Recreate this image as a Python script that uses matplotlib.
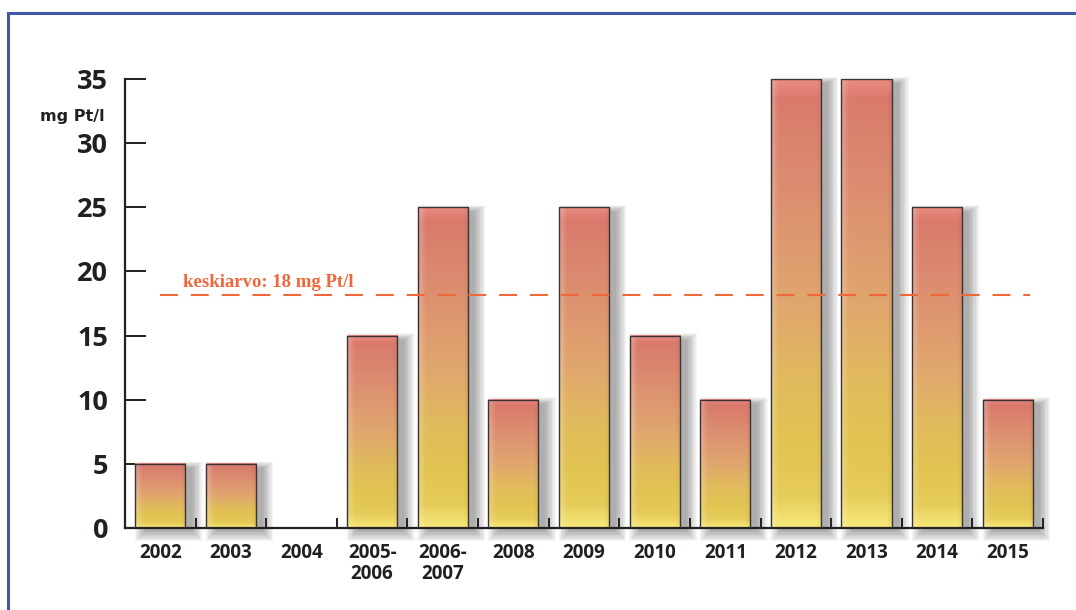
import numpy as np
import matplotlib
matplotlib.use("Agg")
import matplotlib.pyplot as plt
from matplotlib.patches import Rectangle
from matplotlib.colors import LinearSegmentedColormap

# data
years = ["2002", "2003", "2004", "2005-\n2006", "2006-\n2007", "2008", "2009",
         "2010", "2011", "2012", "2013", "2014", "2015"]
values = [5, 5, 0, 15, 25, 10, 25, 15, 10, 35, 35, 25, 10]
mean_value = 18.2
mean_label = "keskiarvo: 18 mg Pt/l"
unit_label = "mg Pt/l"

bar_w = 0.71
ink = "#231f20"
mean_col = "#f0673a"

# vertical colour stops of the bar fill, from top (0) to bottom (1)
stops = [(0.0, "#ea8a80"), (0.04, "#d97a6c"), (0.25, "#dc8e70"),
         (0.5, "#e0a66e"), (0.68, "#e1bb5c"), (0.82, "#e2c452"),
         (0.93, "#e6cc5a"), (1.0, "#f6e878")]
vcmap = LinearSegmentedColormap.from_list("bar", stops)


def bar_image(n=200, m=60):
    t = np.linspace(0, 1, n)
    col = vcmap(t)[:, :3]
    img = np.repeat(col[:, None, :], m, axis=1)
    # lighter left edge, slightly darker right edge
    u = np.linspace(0, 1, m)
    light = np.clip(1 - u / 0.15, 0, 1) * 0.25
    dark = np.clip((u - 0.9) / 0.1, 0, 1) * 0.06
    img = img + (1 - img) * light[None, :, None]
    img = img * (1 - dark[None, :, None])
    return np.clip(img, 0, 1)


fig = plt.figure(figsize=(10.76, 6.10), dpi=100)
ax = fig.add_axes([125 / 1076, 1 - 528 / 610, (1043 - 125) / 1076, (528 - 79) / 610])

img = bar_image()
px = 1 / 70.6      # one pixel in x data units
py = 35 / 449      # one pixel in y data units
for i, v in enumerate(values):
    if v <= 0:
        continue
    x0 = i - bar_w / 2
    x1 = x0 + bar_w
    # soft shadow, mostly on the right side
    for k in range(9):
        g = k * 1.3
        sx0 = x0 + (10 - g) * px
        sx1 = x1 + (7 + g) * px
        sy0 = -(3 + g) * py
        sy1 = v - (4 - 0.6 * g) * py
        ax.add_patch(Rectangle((sx0, sy0), sx1 - sx0, sy1 - sy0,
                               facecolor="#000000", alpha=0.04, lw=0,
                               zorder=1, clip_on=False))
    ax.imshow(img, extent=[x0, x1, 0, v], aspect="auto",
              interpolation="bilinear", zorder=2)
    ax.add_patch(Rectangle((x0, 0), bar_w, v, fill=False, edgecolor="#3a3233",
                           lw=1.0, zorder=3))

ax.plot([0.0, len(values) - 0.68], [mean_value, mean_value], color=mean_col,
        lw=1.5, ls=(0, (8.6, 6.2)), zorder=4)
ax.text(0.32, mean_value + 0.25, mean_label, color=mean_col, fontsize=13.5,
        fontweight="bold", family=["Liberation Serif", "DejaVu Serif"],
        ha="left", va="bottom", zorder=5)

ax.set_xlim(-0.5, len(values) - 0.5)
ax.set_ylim(0, 35)
for s in ["top", "right"]:
    ax.spines[s].set_visible(False)
for s in ["left", "bottom"]:
    ax.spines[s].set_color(ink)
    ax.spines[s].set_linewidth(1.6)

ax.set_yticks(np.arange(0, 36, 5))
ax.tick_params(axis="y", direction="in", length=15, width=1.4, color=ink,
               pad=12, labelsize=19.5, labelcolor=ink)
for lab in ax.get_yticklabels():
    lab.set_fontweight("bold")
    lab.set_family(["Open Sans", "DejaVu Sans"])

ax.set_xticks(range(len(values)))
ax.set_xticklabels(years, fontsize=13.5, fontweight="bold", color=ink,
                   family=["Open Sans", "DejaVu Sans"], linespacing=1.05,
                   va="top")
ax.tick_params(axis="x", length=0, pad=11)
ax.set_xticks(np.arange(0.5, len(values), 1), minor=True)
ax.tick_params(axis="x", which="minor", direction="in", length=7, width=1.4,
               color=ink)

fig.text(40 / 1076, 1 - 116 / 610, unit_label, fontsize=11.5, fontweight="bold",
         color=ink, family=["Liberation Sans Narrow", "DejaVu Sans"],
         ha="left", va="center")

# blue frame around the chart
fig.add_artist(Rectangle((8 / 1076, -0.05), 1.1, 1 - 13 / 610 + 0.05,
                         transform=fig.transFigure, fill=False,
                         edgecolor="#3f58a8", lw=2.2))

fig.savefig("out.png", dpi=100)
